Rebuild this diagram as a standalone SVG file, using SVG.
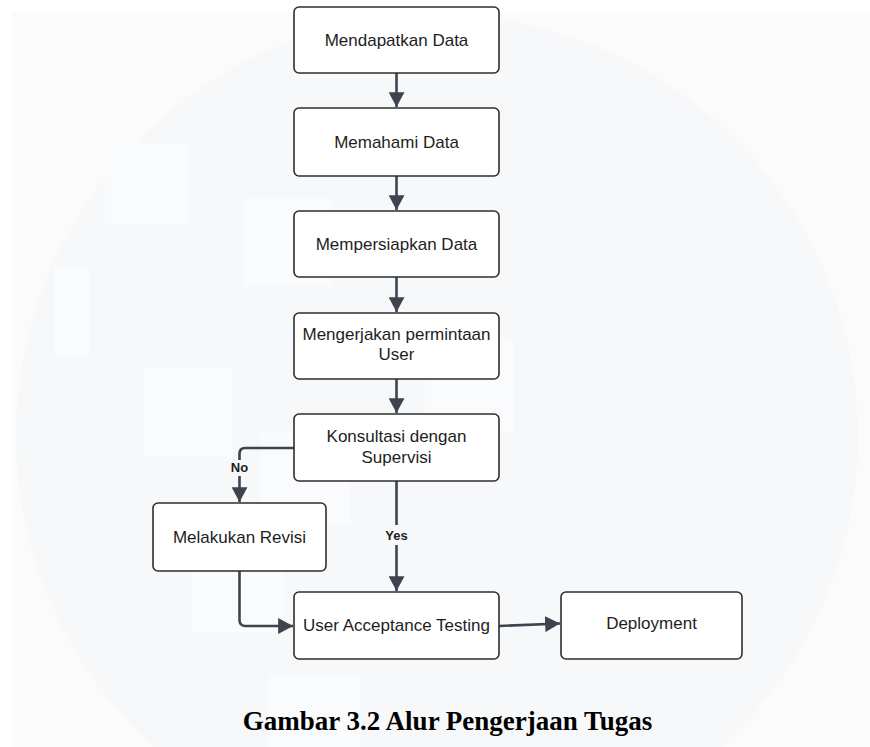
<svg xmlns="http://www.w3.org/2000/svg" width="870" height="747" viewBox="0 0 870 747">
<style>
.box{fill:#ffffff;stroke:#2e2e30;stroke-width:1.6}
.t{font-family:"Liberation Sans",Arial,sans-serif;font-size:17px;fill:#1e1e1e;text-anchor:middle}
.lbl{font-family:"Liberation Sans",Arial,sans-serif;font-size:13px;font-weight:bold;fill:#1e1e1e;text-anchor:middle}
.c{fill:none;stroke:#3e444e;stroke-width:2.6}
.wm{fill:#fafbfc}
</style>
<defs>
<marker id="ah" markerUnits="userSpaceOnUse" markerWidth="16" markerHeight="16" viewBox="0 0 14 14" refX="13" refY="7" orient="auto">
<path d="M0,0 L13,7 L0,14 Z" fill="#3e444e"/>
</marker>
</defs>
<rect width="870" height="747" fill="#ffffff"/>
<rect x="12" y="12" width="858" height="735" fill="#fbfbfc"/>
<circle cx="437" cy="436" r="421" fill="#f7f8fa"/>
<g id="watermark">
<rect class="wm" x="105" y="143" width="84" height="82"/>
<rect class="wm" x="244" y="198" width="89" height="88"/>
<rect class="wm" x="54" y="267" width="36" height="90"/>
<rect class="wm" x="144" y="367" width="89" height="90"/>
<rect class="wm" x="261" y="433" width="89" height="91"/>
<rect class="wm" x="425" y="340" width="89" height="93"/>
<rect class="wm" x="191" y="571" width="92" height="62"/>
<rect class="wm" x="269" y="676" width="92" height="71"/>
</g>
<g id="connectors">
<path class="c" d="M396.5,73 V107" marker-end="url(#ah)"/>
<path class="c" d="M396.5,176 V210" marker-end="url(#ah)"/>
<path class="c" d="M396.5,277 V312" marker-end="url(#ah)"/>
<path class="c" d="M396.5,379 V413" marker-end="url(#ah)"/>
<path class="c" d="M294,448 H245 Q239.5,448 239.5,454 V460"/>
<path class="c" d="M239.5,476 V502" marker-end="url(#ah)"/>
<path class="c" d="M396.5,481 V525"/>
<path class="c" d="M396.5,545 V591" marker-end="url(#ah)"/>
<path class="c" d="M239.5,571 V620 Q239.5,626 245.5,626 H293" marker-end="url(#ah)"/>
<path class="c" d="M499,626 L560,623.5" marker-end="url(#ah)"/>
<text class="lbl" x="239.5" y="472">No</text>
<text class="lbl" x="396.5" y="540">Yes</text>
</g>
<g id="n1"><rect class="box" x="294" y="7" width="205" height="66" rx="5"/><text class="t" x="396.5" y="46">Mendapatkan Data</text></g>
<g id="n2"><rect class="box" x="294" y="108" width="205" height="68" rx="5"/><text class="t" x="396.5" y="148">Memahami Data</text></g>
<g id="n3"><rect class="box" x="294" y="211" width="205" height="66" rx="5"/><text class="t" x="396.5" y="250">Mempersiapkan Data</text></g>
<g id="n4"><rect class="box" x="294" y="313" width="205" height="66" rx="5"/><text class="t" x="396.5" y="340">Mengerjakan permintaan</text><text class="t" x="396.5" y="360">User</text></g>
<g id="n5"><rect class="box" x="294" y="414" width="205" height="67" rx="5"/><text class="t" x="396.5" y="442">Konsultasi dengan</text><text class="t" x="396.5" y="463">Supervisi</text></g>
<g id="n6"><rect class="box" x="153" y="503" width="173" height="68" rx="5"/><text class="t" x="239.5" y="543">Melakukan Revisi</text></g>
<g id="n7"><rect class="box" x="294" y="592" width="205" height="67" rx="5"/><text class="t" x="396.5" y="631">User Acceptance Testing</text></g>
<g id="n8"><rect class="box" x="561" y="592" width="181" height="67" rx="5"/><text class="t" x="651.5" y="629">Deployment</text></g>
<text x="447.5" y="730" font-family="'Liberation Serif','Times New Roman',serif" font-size="27" font-weight="bold" fill="#000000" text-anchor="middle">Gambar 3.2 Alur Pengerjaan Tugas</text>
</svg>
